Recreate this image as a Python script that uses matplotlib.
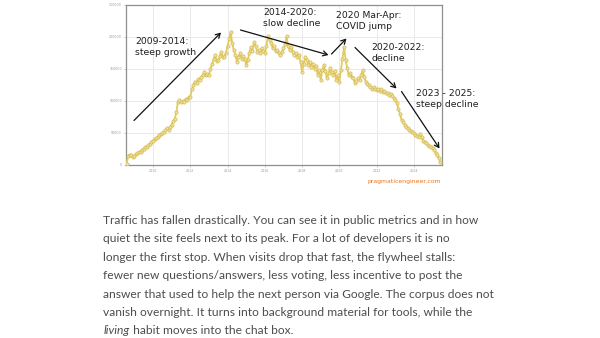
import matplotlib
matplotlib.use("Agg")
import matplotlib.pyplot as plt
import numpy as np

# ---------------- data (monthly, thousands) ----------------
start_year, start_month = 2008, 8
v2008 = [2, 14, 16, 15, 13]
v2009 = [14, 17, 18, 21, 21, 24, 25, 28, 28, 31, 33, 36]
v2010 = [38, 40, 42, 44, 47, 48, 50, 52, 54, 57, 55, 59]
v2011 = [63, 68, 72, 82, 98, 101, 99, 100, 98, 103, 101, 106]
v2012 = [106, 118, 125, 130, 128, 134, 133, 137, 140, 145, 140, 142]
v2013 = [140, 150, 158, 165, 171, 162, 164, 170, 177, 168, 169, 175]
v2014 = [186, 196, 208, 190, 179, 172, 161, 168, 174, 166, 170, 165]
v2015 = [156, 163, 175, 184, 178, 192, 186, 177, 180, 175, 182, 178]
v2016 = [174, 185, 201, 195, 190, 182, 186, 178, 180, 174, 171, 176]
v2017 = [182, 188, 201, 185, 179, 184, 176, 171, 175, 168, 172, 160]
v2018 = [145, 158, 169, 163, 156, 161, 153, 158, 150, 155, 140, 148]
v2019 = [132, 148, 156, 146, 135, 143, 151, 145, 140, 147, 133, 140]
v2020 = [130, 148, 165, 184, 164, 152, 140, 143, 138, 135, 128, 131]
v2021 = [135, 133, 141, 148, 138, 130, 127, 125, 121, 119, 122, 118]
v2022 = [117, 119, 116, 118, 114, 116, 113, 112, 109, 111, 107, 104]
v2023 = [101, 96, 88, 80, 70, 67, 63, 60, 58, 55, 53, 51]
v2024 = [50, 47, 46, 44, 49, 44, 38, 36, 34, 31, 29, 28]
v2025 = [26, 23, 19, 15, 11, 5]

values = np.array(v2008 + v2009 + v2010 + v2011 + v2012 + v2013 + v2014 + v2015 +
                  v2016 + v2017 + v2018 + v2019 + v2020 + v2021 + v2022 + v2023 +
                  v2024 + v2025) * 1000.0
months = start_year + (start_month - 1) / 12 + np.arange(len(values)) / 12

x_ticks = [2010, 2012, 2014, 2016, 2018, 2020, 2022, 2024]
y_ticks = [0, 50000, 100000, 150000, 200000, 250000]

annotations = [
    ("2009-2014:\nsteep growth", (135, 47)),
    ("2014-2020:\nslow decline", (263, 18)),
    ("2020 Mar-Apr:\nCOVID jump", (336, 21)),
    ("2020-2022:\ndecline", (371.5, 53)),
    ("2023 - 2025:\nsteep decline", (416, 99)),
]
arrows = [
    ((134, 120.5), (221, 32.5)),
    ((240.5, 30), (328.5, 55)),
    ((331.5, 54), (346.5, 38.5)),
    ((355, 47.5), (396.5, 88.5)),
    ((401.5, 91.5), (439.5, 148.5)),
]

paragraph = [
    "Traffic has fallen drastically. You can see it in public metrics and in how",
    "quiet the site feels next to its peak. For a lot of developers it is no",
    "longer the first stop. When visits drop that fast, the flywheel stalls:",
    "fewer new questions/answers, less voting, less incentive to post the",
    "answer that used to help the next person via Google. The corpus does not",
    "vanish overnight. It turns into background material for tools, while the",
]
last_italic = "living"
last_rest = " habit moves into the chat box."

# ---------------- figure ----------------
W, H = 600, 338
fig = plt.figure(figsize=(W / 100, H / 100), dpi=100)
fig.patch.set_facecolor("white")

def fx(x):
    return x / W

def fy(y):
    return 1 - y / H

ax_l, ax_r, ax_t, ax_b = 126, 441.7, 4.7, 165
ax = fig.add_axes([fx(ax_l), fy(ax_b), (ax_r - ax_l) / W, (ax_b - ax_t) / H])
ax.plot(months, values, color="#e3cb62", lw=1.3, marker="o", ms=2.3,
        mfc="#f0e2a2", mec="#d6bd55", mew=0.55, zorder=3)
ax.set_xlim(2008.55, 2025.49)
ax.set_ylim(0, 250000)
ax.set_xticks(x_ticks)
ax.set_xticklabels([str(t) for t in x_ticks])
ax.set_yticks(y_ticks)
ax.set_yticklabels([str(t) for t in y_ticks])
ax.tick_params(labelsize=2.3, colors="#9a9a9a", length=1.5, width=0.4, pad=1.5)
ax.grid(True, color="#e6e6e6", lw=0.6)
ax.set_axisbelow(True)
for s in ax.spines.values():
    s.set_color("#8f8f8f")
    s.set_linewidth(0.9)

hand = ["DejaVu Sans"]
for txt, (x, y) in annotations:
    fig.text(fx(x), fy(y), txt, fontsize=6.7, family=hand, color="#1e1e1e",
             ha="left", va="center", linespacing=1.25)
for (x0, y0), (x1, y1) in arrows:
    fig.add_artist(matplotlib.patches.FancyArrowPatch(
        (fx(x0), fy(y0)), (fx(x1), fy(y1)), transform=fig.transFigure,
        arrowstyle="->,head_length=3.2,head_width=1.8", lw=0.9, color="#111111",
        shrinkA=0, shrinkB=0))

fig.text(fx(441), fy(181), "pragmaticengineer.com", fontsize=4.4,
         color="#e8751f", ha="right", va="center", family="DejaVu Sans")

# paragraph
pfam = "Lato"
pcol = "#4d4d4d"
fs = 9.6
x0, y0, dy = 103.5, 220.5, 18.4
renderer = fig.canvas.get_renderer()
probe = fig.text(0, 0, paragraph[4], fontsize=fs, family=pfam)
wpx = probe.get_window_extent(renderer).width
probe.remove()
fs = fs * 390 / wpx
for i, line in enumerate(paragraph):
    fig.text(fx(x0), fy(y0 + i * dy), line, fontsize=fs, family=pfam,
             color=pcol, ha="left", va="center")
t_it = fig.text(fx(x0), fy(y0 + 6 * dy), last_italic, fontsize=fs, family=pfam,
                style="italic", color=pcol, ha="left", va="center")
wi = t_it.get_window_extent(renderer).width
fig.text(fx(x0 + wi), fy(y0 + 6 * dy), last_rest, fontsize=fs, family=pfam,
         color=pcol, ha="left", va="center")

fig.savefig("out.png", dpi=100, facecolor="white")
